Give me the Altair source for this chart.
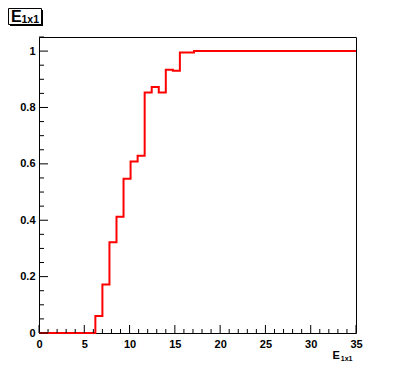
import altair as alt
import pandas as pd

# Histogram: 45 bins from 0 to 35
x_lo, x_hi = 0.0, 35.0
values = [0, 0, 0, 0, 0, 0, 0, 0,
          0.06, 0.172, 0.322, 0.412, 0.547, 0.608, 0.629,
          0.853, 0.873, 0.853, 0.934, 0.930, 0.995, 0.995,
          1, 1, 1, 1, 1, 1, 1, 1, 1, 1, 1, 1, 1, 1, 1, 1, 1, 1, 1, 1, 1, 1, 1]
x_ticks = [0, 5, 10, 15, 20, 25, 30, 35]
x_minor = [v for v in range(0, 36) if v % 5 != 0]
y_ticks = [0, 0.2, 0.4, 0.6, 0.8, 1.0]
y_minor = [0.05, 0.1, 0.15, 0.25, 0.3, 0.35, 0.45, 0.5, 0.55, 0.65, 0.7, 0.75,
           0.85, 0.9, 0.95, 1.05]

n = len(values)
w = (x_hi - x_lo) / n
edges = [x_lo + i * w for i in range(n)] + [x_hi]
hist = pd.DataFrame({"x": edges, "y": values + [values[-1]]})

W, H = 317, 296
FONT = "Liberation Sans"

xs = alt.Scale(domain=[x_lo, x_hi], nice=False, zero=False)
ys = alt.Scale(domain=[0, 1.05], nice=False, zero=False)

line = alt.Chart(hist).mark_line(
    interpolate="step-after", color="#ff0000", strokeWidth=2
).encode(
    x=alt.X("x:Q", scale=xs, axis=alt.Axis(
        values=x_ticks, ticks=False, grid=False, domain=False, title=None,
        labelFont=FONT, labelFontWeight="bold", labelFontSize=11,
        labelColor="black", labelPadding=5, labelFlush=False)),
    y=alt.Y("y:Q", scale=ys, axis=alt.Axis(
        values=y_ticks, format="~g", ticks=False, grid=False, domain=False,
        title=None, labelFont=FONT, labelFontWeight="bold", labelFontSize=11,
        labelColor="black", labelPadding=4, labelFlush=False)),
)

ymaj = alt.Chart(pd.DataFrame({"v": y_ticks})).mark_rule(color="black").encode(
    y=alt.Y("v:Q", scale=ys), x=alt.value(0), x2=alt.value(9))
ymin = alt.Chart(pd.DataFrame({"v": y_minor})).mark_rule(color="black").encode(
    y=alt.Y("v:Q", scale=ys), x=alt.value(0), x2=alt.value(5))
xmaj = alt.Chart(pd.DataFrame({"v": x_ticks})).mark_rule(color="black").encode(
    x=alt.X("v:Q", scale=xs), y=alt.value(H), y2=alt.value(H - 8))
xmin = alt.Chart(pd.DataFrame({"v": x_minor})).mark_rule(color="black").encode(
    x=alt.X("v:Q", scale=xs), y=alt.value(H), y2=alt.value(H - 4))

one = pd.DataFrame({"a": [0]})
shadow = alt.Chart(one).mark_rect(color="black").encode(
    x=alt.value(-29), x2=alt.value(4), y=alt.value(-27), y2=alt.value(-11))
box = alt.Chart(one).mark_rect(fill="white", stroke="black", strokeWidth=1).encode(
    x=alt.value(-30.5), x2=alt.value(2.5), y=alt.value(-28.5), y2=alt.value(-12.5))
t_main = alt.Chart(one).mark_text(
    text="E", font=FONT, fontWeight="bold", fontSize=16, align="left",
    baseline="alphabetic", color="black").encode(x=alt.value(-28), y=alt.value(-15))
t_sub = alt.Chart(one).mark_text(
    text="1x1", font=FONT, fontWeight="bold", fontSize=10.5, align="left",
    baseline="alphabetic", color="black").encode(x=alt.value(-17.5), y=alt.value(-14))
xt_main = alt.Chart(one).mark_text(
    text="E", font=FONT, fontWeight="bold", fontSize=11, align="left",
    baseline="alphabetic", color="black").encode(x=alt.value(293.5), y=alt.value(321.8))
xt_sub = alt.Chart(one).mark_text(
    text="1x1", font=FONT, fontWeight="bold", fontSize=7, align="left",
    baseline="alphabetic", color="black").encode(x=alt.value(301.8), y=alt.value(323.5))

chart = alt.layer(
    line, ymaj, ymin, xmaj, xmin, shadow, box, t_main, t_sub, xt_main, xt_sub
).properties(
    width=W, height=H,
    autosize=alt.AutoSizeParams(type="none"),
    padding={"left": 31, "top": 29, "right": 32, "bottom": 40},
    background="white",
).configure_view(stroke="black", strokeWidth=1)

chart.save("out.html", embed_options={"renderer": "svg", "actions": False})
